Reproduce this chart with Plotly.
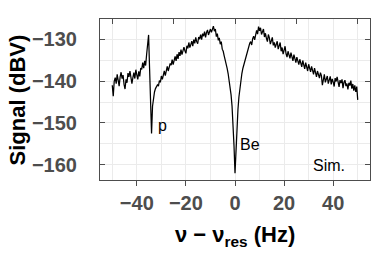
import numpy as np
import plotly.graph_objects as go

# Frequency offset grid (Hz), -50 .. 50 in 0.4 Hz steps
FREQ_START = -50.0
FREQ_STOP = 50.0

# Signal (dBV)
SIGNAL = [
    # -50.0 .. -36.4
    -141.0, -143.6, -140.0, -139.2, -140.6, -138.4, -139.8, -141.2, -139.0, -137.9,
    -139.4, -138.6, -140.8, -141.9, -139.6, -140.4, -138.1, -139.0, -137.6, -139.7,
    -140.6, -139.2, -138.0, -139.4, -137.3, -138.5, -139.6, -137.7, -138.9, -136.9,
    -137.2, -135.6, -136.9, -135.2, -136.3,
    # -36.0 .. -33.2  (proton feature)
    -133.6, -131.8, -129.0, -137.0, -146.5, -152.5, -146.0, -143.6,
    # -32.8 .. -10.0
    -142.6, -141.8, -141.4, -140.9, -141.2, -139.9, -140.3, -138.8,
    -139.6, -138.3, -137.6, -138.7, -137.4,
    -136.5, -137.6, -136.9, -135.8, -136.2,
    -134.9, -136.1, -135.3, -134.1, -135.2,
    -133.6, -134.7, -133.1, -134.0, -132.5,
    -133.7, -133.0, -131.9, -132.8, -133.4,
    -131.6, -132.2, -130.8, -132.0, -131.3,
    -130.5, -131.7, -130.1, -131.0, -129.6,
    -130.6, -131.1, -129.5, -130.0, -128.9,
    -130.1, -128.7, -129.3, -128.2, -129.6,
    -128.4, -127.8, -129.0, -128.1, -127.6,
    # -9.6 .. -2.4
    -128.4, -127.2, -126.9, -128.1, -127.6, -129.4, -128.7, -130.3, -129.7, -131.2,
    -130.6, -132.4, -132.9, -134.0, -134.8, -135.9, -137.0, -138.2, -139.7,
    # -2.0 .. 2.0  (Be dip)
    -141.2, -143.3, -146.0, -150.0, -155.5, -162.0, -156.0, -150.5, -146.8, -143.8, -141.4,
    # 2.4 .. 10.0
    -139.4, -138.2, -137.0, -136.1, -134.9, -134.0, -133.3, -132.4, -131.9, -131.0,
    -130.6, -131.4, -129.9, -129.3, -130.2, -128.4, -127.9, -128.8, -127.0, -128.0,
    # 10.4 .. 50.0
    -127.3, -128.9, -128.3, -127.6, -129.5, -128.6, -129.8, -130.6, -128.9, -129.7,
    -131.2, -130.1, -129.6, -131.5, -130.8, -132.0, -131.1, -130.5, -132.4, -131.6,
    -130.8, -132.9, -132.0, -133.6, -132.2, -131.7, -133.5, -134.3, -132.9, -133.7,
    -134.6, -133.2, -134.0, -135.2, -133.7, -134.5, -135.6, -134.3, -135.0, -136.1,
    -134.8, -135.7, -136.6, -135.1, -136.2, -137.1, -135.6, -136.4, -137.6, -136.0,
    -136.9, -137.8, -136.5, -137.3, -138.4, -136.9, -137.7, -139.0, -137.6, -138.3,
    -139.3, -138.0, -138.7, -141.0, -139.1, -138.4, -140.3, -139.4, -138.8, -140.6,
    -139.7, -138.9, -140.8, -139.5, -140.2, -141.3, -139.3, -140.1, -139.0, -140.9,
    -141.4, -139.8, -140.5, -139.6, -141.7, -140.3, -139.8, -141.2, -140.6, -142.0,
    -140.4, -141.1, -139.9, -141.8, -140.7, -142.3, -141.0, -142.6, -141.3, -144.5,
]

FREQ = np.linspace(FREQ_START, FREQ_STOP, len(SIGNAL))

X_TICKS = [-40, -20, 0, 20, 40]
X_TOP_TICKS = [-50, -25, 0, 25, 50]
Y_TICKS = [-130, -140, -150, -160]

LABELS = ["p", "Be", "Sim."]
LABEL_X = [-32.2, 1.3, 31.0]
LABEL_Y = [-150.5, -155.2, -160.2]

FONT = "Liberation Sans, Arial, Helvetica, sans-serif"
AX = "#4d4d4d"
GRID = "#ebebeb"

fig = go.Figure()
fig.add_trace(go.Scatter(x=FREQ, y=SIGNAL, mode="lines",
                         line=dict(color="black", width=1.25), showlegend=False,
                         hoverinfo="skip"))
fig.add_trace(go.Scatter(x=[0], y=[-140], xaxis="x2", mode="markers",
                         marker=dict(opacity=0), showlegend=False, hoverinfo="skip"))

for t, lx, ly in zip(LABELS, LABEL_X, LABEL_Y):
    fig.add_annotation(x=lx, y=ly, text=t, showarrow=False, xanchor="left",
                       yanchor="middle", font=dict(family=FONT, size=16, color="black"))

fig.add_annotation(xref="paper", yref="paper", x=-0.304, y=0.5, text="Signal (dBV)",
                   textangle=-90, showarrow=False, xanchor="center", yanchor="middle",
                   font=dict(family=FONT, size=22, color="black", weight="bold"))
fig.add_annotation(xref="paper", yref="paper", x=0.5, y=-0.345,
                   text="ν − ν<sub>res</sub> (Hz)",
                   showarrow=False, xanchor="center", yanchor="middle",
                   font=dict(family=FONT, size=22, color="black", weight="bold"))

fig.update_layout(
    width=390, height=260,
    margin=dict(l=100, r=20, t=19, b=80),
    paper_bgcolor="white", plot_bgcolor="white",
    xaxis=dict(range=[-55, 55], tickvals=X_TICKS, ticks="outside", ticklen=5,
               tickwidth=1, tickcolor=AX, showline=True, linecolor=AX, linewidth=1,
               mirror=True, showgrid=True, gridcolor=GRID, gridwidth=1,
               minor=dict(dtick=10, tick0=0, showgrid=True, gridcolor=GRID, gridwidth=1),
               zeroline=False,
               tickfont=dict(family=FONT, size=20, color=AX, weight="bold")),
    xaxis2=dict(range=[-55, 55], overlaying="x", side="top", tickvals=X_TOP_TICKS,
                ticks="inside", ticklen=5, tickwidth=1, tickcolor=AX,
                showticklabels=False, showgrid=False, zeroline=False, showline=False),
    yaxis=dict(range=[-163.6, -125.2], tickvals=Y_TICKS, ticks="inside", ticklen=5,
               tickwidth=1, tickcolor=AX, showline=True, linecolor=AX, linewidth=1,
               mirror="ticks", showgrid=True, gridcolor=GRID, gridwidth=1,
               minor=dict(dtick=5, tick0=-130, showgrid=True, gridcolor=GRID, gridwidth=1),
               zeroline=False, ticklabelstandoff=18,
               tickfont=dict(family=FONT, size=20, color=AX, weight="bold")),
)

fig.write_html("out.html", config={"displayModeBar": False},
               post_script="document.body.style.margin='0';")
